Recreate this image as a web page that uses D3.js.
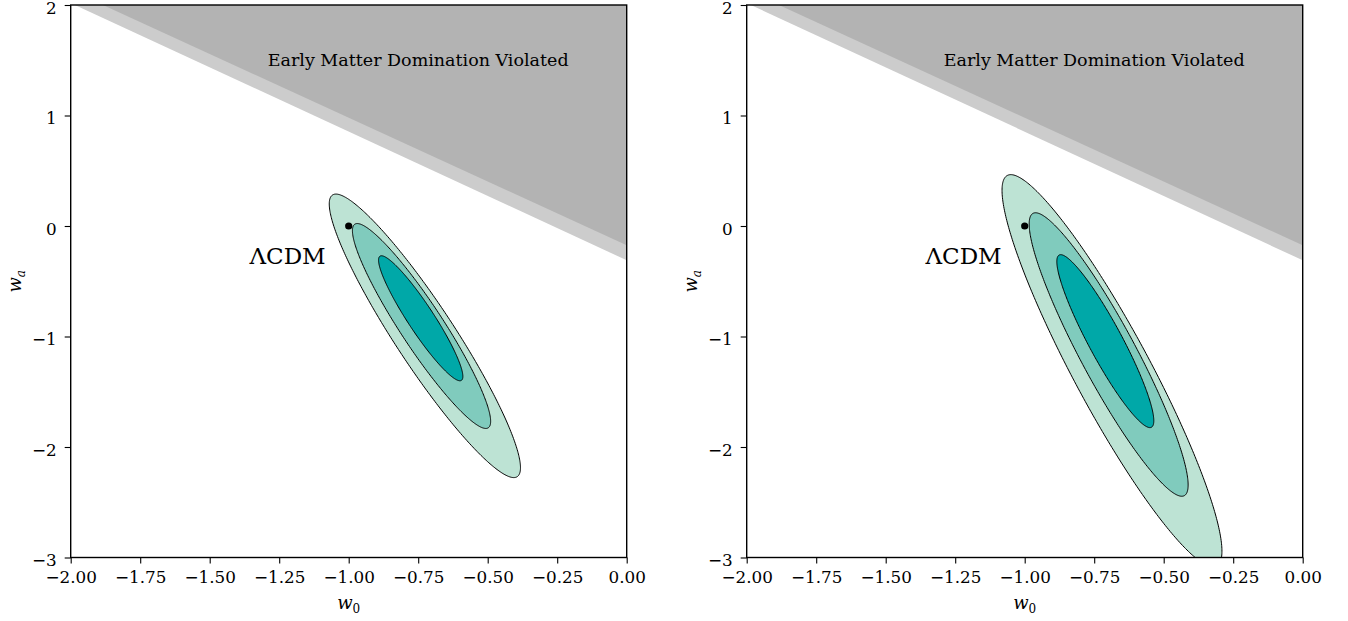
<!DOCTYPE html>
<html>
<head>
<meta charset="utf-8">
<script src="https://cdn.jsdelivr.net/npm/d3@7"></script>
<style>
  html, body { margin: 0; padding: 0; background: #fff; }
  svg { display: block; }
  text { font-family: "DejaVu Serif", "Liberation Serif", serif; fill: #000; }
</style>
</head>
<body>
<svg id="chart" width="1348" height="621"></svg>
<script>
// Axis ranges and tick values (w0 horizontal, wa vertical)
const xDomain = [-2, 0];
const yDomain = [-3, 2];
const xTicks = [-2.0, -1.75, -1.5, -1.25, -1.0, -0.75, -0.5, -0.25, 0.0];
const yTicks = [-3, -2, -1, 0, 1, 2];

// Confidence levels for two parameters (Δχ² for 3σ, 2σ, 1σ), drawn outermost first
const contourLevels = [11.83, 6.18, 2.30];
const contourColors = ["#bde3d4", "#80cbbd", "#00a8a8"];

// Left forecast: centre of each contour, marginal widths and correlation
const leftCentres = [[-0.726, -0.994], [-0.738, -0.905], [-0.741, -0.835]];
const leftSigma = [0.100, 0.373];
const leftRho = -0.93;

// Right forecast
const rightCentres = [[-0.686, -1.31], [-0.698, -1.163], [-0.710, -1.042]];
const rightSigma = [0.115, 0.516];
const rightRho = -0.92;

// Excluded region (dark) and its margin band (light), as (w0, wa) vertices
const bandRegion = [[-1.985, 2], [0, 2], [0, -0.31]];
const excludedRegion = [[-1.884, 2], [0, 2], [0, -0.175]];
const excludedLabel = "Early Matter Domination Violated";
const excludedLabelPos = [-0.75, 1.5];

// Fiducial model
const fiducial = [-1, 0];
const fiducialLabel = "ΛCDM";
const fiducialLabelPos = [-1.22, -0.27];

const panels = [
  { left: 70.7, centres: leftCentres, sigma: leftSigma, rho: leftRho },
  { left: 746.7, centres: rightCentres, sigma: rightSigma, rho: rightRho }
];

const plotW = 556, plotTop = 5, plotH = 552.5;
const svg = d3.select("#chart");
const fmtX = d => (d < 0 ? "\u2212" : "") + Math.abs(d).toFixed(2);
const fmtY = d => (d < 0 ? "\u2212" : "") + Math.abs(d);

// Ellipse outline for a Gaussian with the given widths/correlation at level dchi2
function ellipse(centre, sigma, rho, dchi2) {
  const k = Math.sqrt(dchi2);
  const pts = [];
  for (let i = 0; i <= 360; i++) {
    const t = (i / 360) * 2 * Math.PI;
    const c = Math.cos(t), s = Math.sin(t);
    pts.push([
      centre[0] + k * sigma[0] * c,
      centre[1] + k * sigma[1] * (rho * c + Math.sqrt(1 - rho * rho) * s)
    ]);
  }
  return pts;
}

panels.forEach((p, idx) => {
  const x = d3.scaleLinear().domain(xDomain).range([p.left, p.left + plotW]);
  const y = d3.scaleLinear().domain(yDomain).range([plotTop + plotH, plotTop]);
  const clipId = "clip" + idx;
  svg.append("clipPath").attr("id", clipId)
    .append("rect").attr("x", p.left).attr("y", plotTop).attr("width", plotW).attr("height", plotH);

  const g = svg.append("g").attr("clip-path", `url(#${clipId})`);
  const line = d3.line().x(d => x(d[0])).y(d => y(d[1]));

  g.append("path").attr("d", line(bandRegion) + "Z").attr("fill", "#cccccc");
  g.append("path").attr("d", line(excludedRegion) + "Z").attr("fill", "#b3b3b3");

  contourLevels.forEach((lev, i) => {
    g.append("path")
      .attr("d", line(ellipse(p.centres[i], p.sigma, p.rho, lev)) + "Z")
      .attr("fill", contourColors[i])
      .attr("stroke", "#000")
      .attr("stroke-width", 1);
  });

  g.append("circle").attr("cx", x(fiducial[0])).attr("cy", y(fiducial[1]))
    .attr("r", 3.6).attr("fill", "#000");

  svg.append("text")
    .attr("x", x(excludedLabelPos[0])).attr("y", y(excludedLabelPos[1]))
    .attr("text-anchor", "middle").attr("dominant-baseline", "central")
    .style("font-size", "17.5px")
    .text(excludedLabel);

  svg.append("text")
    .attr("x", x(fiducialLabelPos[0])).attr("y", y(fiducialLabelPos[1]))
    .attr("text-anchor", "middle").attr("dominant-baseline", "central")
    .style("font-size", "23px")
    .text(fiducialLabel);

  // Axes
  const xAxis = d3.axisBottom(x).tickValues(xTicks).tickFormat(fmtX).tickSize(6).tickPadding(8);
  const yAxis = d3.axisLeft(y).tickValues(yTicks).tickFormat(fmtY).tickSize(6).tickPadding(8);
  const gx = svg.append("g").attr("transform", `translate(0,${plotTop + plotH})`).call(xAxis);
  const gy = svg.append("g").attr("transform", `translate(${p.left},0)`).call(yAxis);
  [gx, gy].forEach(a => {
    a.select(".domain").remove();
    a.selectAll(".tick line").attr("stroke", "#000").attr("stroke-width", 1.1);
    a.selectAll(".tick text").style("font-size", "16.8px")
      .style("font-family", "'DejaVu Serif', serif").attr("fill", "#000");
  });
  gy.selectAll(".tick text").attr("dy", "0.48em");

  svg.append("rect").attr("x", p.left).attr("y", plotTop).attr("width", plotW).attr("height", plotH)
    .attr("fill", "none").attr("stroke", "#000").attr("stroke-width", 1.4);

  // Axis titles
  const xt = svg.append("text")
    .attr("x", p.left + plotW / 2).attr("y", 609)
    .attr("text-anchor", "middle").style("font-size", "18px");
  xt.append("tspan").style("font-style", "italic").text("w");
  xt.append("tspan").attr("dy", 4).style("font-size", "12px").text("0");

  const yt = svg.append("text")
    .attr("transform", `translate(${p.left - 50},${plotTop + plotH / 2}) rotate(-90)`)
    .attr("text-anchor", "middle").style("font-size", "18px");
  yt.append("tspan").style("font-style", "italic").text("w");
  yt.append("tspan").attr("dy", 4).style("font-size", "12px").style("font-style", "italic").text("a");
});
</script>
</body>
</html>
